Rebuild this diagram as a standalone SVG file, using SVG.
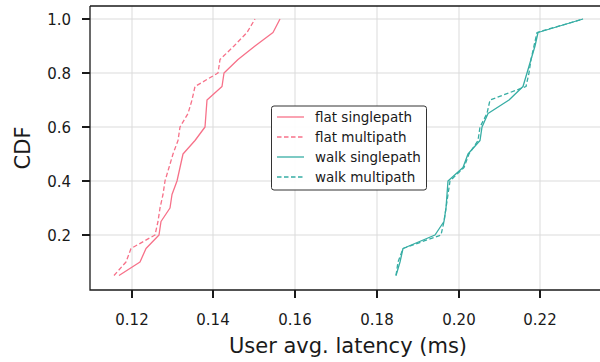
<svg xmlns="http://www.w3.org/2000/svg" width="600" height="362" viewBox="0 0 600 362">
<style>
text{font-family:"DejaVu Sans","Liberation Sans",sans-serif;fill:#1a1a1a}
.grid line{stroke:#dbdbdb;stroke-width:1}
.tick{stroke:#1a1a1a;stroke-width:2}
.tl{font-size:15px}
.lab{font-size:21px}
.leg{font-size:13.5px}
.flat{stroke:#f77189;stroke-width:1.3;fill:none;stroke-linejoin:round}
.walk{stroke:#36ada4;stroke-width:1.3;fill:none;stroke-linejoin:round}
.dash{stroke-dasharray:4.5,2.5}
</style>
<rect width="600" height="362" fill="#ffffff"/>
<g class="grid">
<line x1="132" y1="6" x2="132" y2="290"/>
<line x1="213" y1="6" x2="213" y2="290"/>
<line x1="295" y1="6" x2="295" y2="290"/>
<line x1="377" y1="6" x2="377" y2="290"/>
<line x1="459" y1="6" x2="459" y2="290"/>
<line x1="540" y1="6" x2="540" y2="290"/>
<line x1="90" y1="19" x2="600" y2="19"/>
<line x1="90" y1="73" x2="600" y2="73"/>
<line x1="90" y1="127" x2="600" y2="127"/>
<line x1="90" y1="181" x2="600" y2="181"/>
<line x1="90" y1="235" x2="600" y2="235"/>
</g>
<g id="connectors">
<polyline id="flat-single" class="flat" points="119,275.5 140,262 146,248.5 159,235 161,221.5 170,208 172,194.5 177,181 180,167.5 183,154 195,140.5 205,127 206,113.5 207,100 222,86.5 224,73 238,59.5 255,46 273,32.5 280,19"/>
<polyline id="flat-multi" class="flat dash" points="114,275.5 126,262 131,248.5 155,235 158,221.5 160,208 163,194.5 165,181 169,167.5 173,154 178,140.5 180,127 188,113.5 192,100 195,86.5 218,73 220,59.5 234,46 247,32.5 255,19"/>
<polyline id="walk-single" class="walk" points="396,275.5 400,262 403,248.5 435,235 444,221.5 446,208 447,194.5 448,181 463,167.5 468,154 480,140.5 482,127 488,113.5 509,100 523,86.5 527,73 531,59.5 535,46 538,32.5 583,19"/>
<polyline id="walk-multi" class="walk dash" points="396,275.5 398,262 403,248.5 441,235 444,221.5 446,208 448,194.5 450,181 464,167.5 469,154 478,140.5 480,127 487,113.5 490,100 526,86.5 529,73 531,59.5 534,46 537,32.5 583,19"/>
</g>
<g id="axes">
<path d="M90,6 H600 M90,6 V290 H600" fill="none" stroke="#1a1a1a" stroke-width="1.3"/>
<line class="tick" x1="82" y1="19" x2="90" y2="19"/>
<line class="tick" x1="82" y1="73" x2="90" y2="73"/>
<line class="tick" x1="82" y1="127" x2="90" y2="127"/>
<line class="tick" x1="82" y1="181" x2="90" y2="181"/>
<line class="tick" x1="82" y1="235" x2="90" y2="235"/>
<line class="tick" x1="132" y1="290" x2="132" y2="298"/>
<line class="tick" x1="213" y1="290" x2="213" y2="298"/>
<line class="tick" x1="295" y1="290" x2="295" y2="298"/>
<line class="tick" x1="377" y1="290" x2="377" y2="298"/>
<line class="tick" x1="459" y1="290" x2="459" y2="298"/>
<line class="tick" x1="540" y1="290" x2="540" y2="298"/>
<g class="tl" text-anchor="end">
<text x="71" y="25">1.0</text>
<text x="71" y="79">0.8</text>
<text x="71" y="133">0.6</text>
<text x="71" y="187">0.4</text>
<text x="71" y="241">0.2</text>
</g>
<g class="tl" text-anchor="middle">
<text x="132" y="325">0.12</text>
<text x="213" y="325">0.14</text>
<text x="295" y="325">0.16</text>
<text x="377" y="325">0.18</text>
<text x="459" y="325">0.20</text>
<text x="540" y="325">0.22</text>
</g>
<text class="lab" x="348" y="353" text-anchor="middle">User avg. latency (ms)</text>
<text class="lab" x="0" y="0" text-anchor="middle" transform="translate(30,148) rotate(-90)">CDF</text>
</g>
<g id="legend">
<rect x="271.5" y="106" width="155" height="84" rx="2.5" fill="#ffffff" fill-opacity="0.9" stroke="#333333" stroke-width="1"/>
<line class="flat" x1="277" y1="117" x2="304" y2="117"/>
<line class="flat dash" x1="277" y1="137" x2="304" y2="137"/>
<line class="walk" x1="277" y1="157" x2="304" y2="157"/>
<line class="walk dash" x1="277" y1="177" x2="304" y2="177"/>
<text class="leg" x="315" y="121.5">flat singlepath</text>
<text class="leg" x="315" y="141.5">flat multipath</text>
<text class="leg" x="315" y="161.5">walk singlepath</text>
<text class="leg" x="315" y="181.5">walk multipath</text>
</g>
</svg>
